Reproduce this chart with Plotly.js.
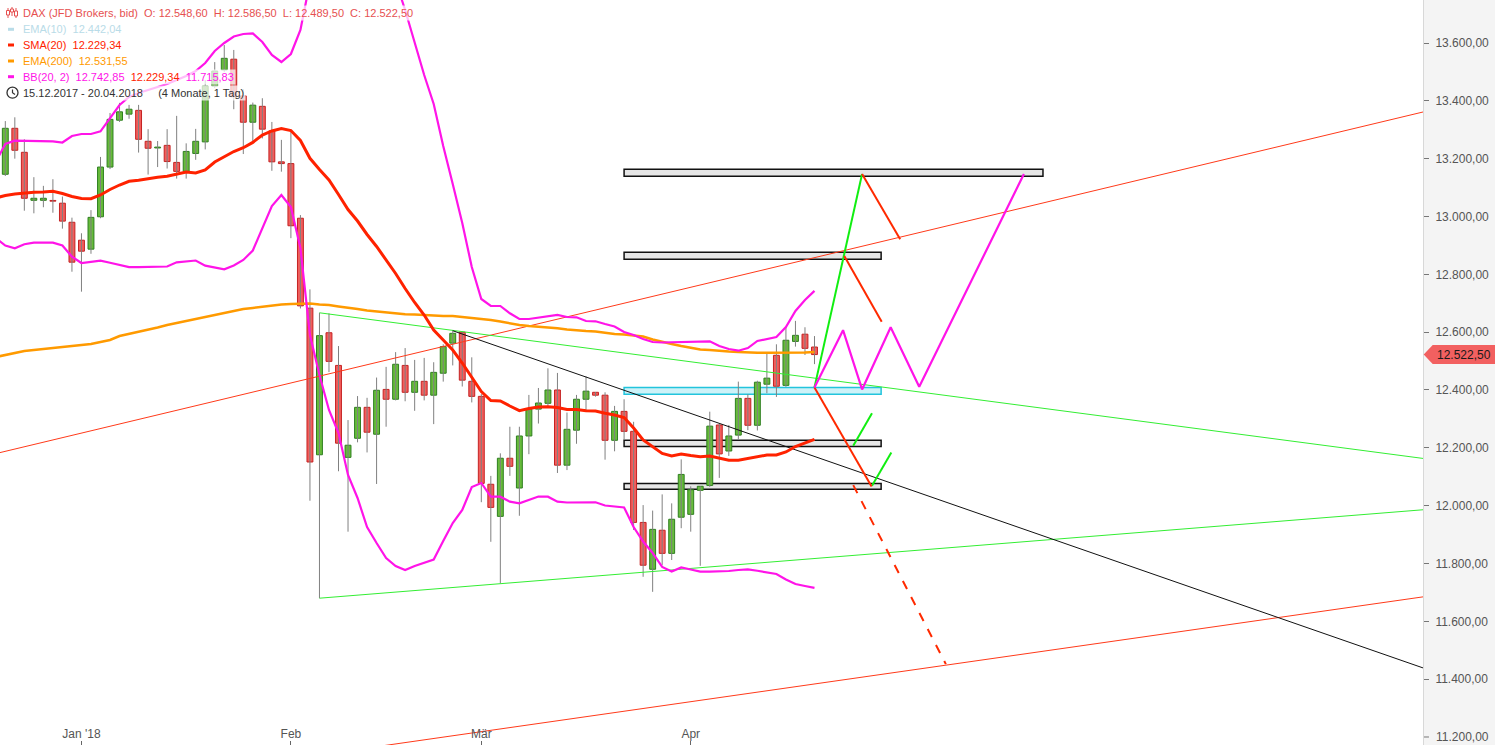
<!DOCTYPE html>
<html><head><meta charset="utf-8">
<script src="https://cdn.plot.ly/plotly-3.0.1.min.js"></script>
<style>html,body{margin:0;padding:0;background:#f4f4f4;overflow:hidden}#chart{width:1495px;height:745px}</style>
</head><body><div id="chart"></div>
<script>
// ---------- DATA ----------
const dates = ["2017-12-15","2017-12-18","2017-12-19","2017-12-20","2017-12-21","2017-12-22","2017-12-27","2017-12-28","2017-12-29",
"2018-01-02","2018-01-03","2018-01-04","2018-01-05","2018-01-08","2018-01-09","2018-01-10","2018-01-11","2018-01-12","2018-01-15","2018-01-16","2018-01-17","2018-01-18","2018-01-19","2018-01-22","2018-01-23","2018-01-24","2018-01-25","2018-01-26","2018-01-29","2018-01-30","2018-01-31",
"2018-02-01","2018-02-02","2018-02-05","2018-02-06","2018-02-07","2018-02-08","2018-02-09","2018-02-12","2018-02-13","2018-02-14","2018-02-15","2018-02-16","2018-02-19","2018-02-20","2018-02-21","2018-02-22","2018-02-23","2018-02-26","2018-02-27","2018-02-28",
"2018-03-01","2018-03-02","2018-03-05","2018-03-06","2018-03-07","2018-03-08","2018-03-09","2018-03-12","2018-03-13","2018-03-14","2018-03-15","2018-03-16","2018-03-19","2018-03-20","2018-03-21","2018-03-22","2018-03-23","2018-03-26","2018-03-27","2018-03-28","2018-03-29","2018-03-30",
"2018-04-03","2018-04-04","2018-04-05","2018-04-06","2018-04-09","2018-04-10","2018-04-11","2018-04-12","2018-04-13","2018-04-16","2018-04-17","2018-04-18","2018-04-19","2018-04-20"];

const open = [13005,13146,13305,13222,13056,13056,13055,13046,12980,12918,12887,12999,13171,13333,13354,13367,13260,13237,13246,13187,13156,13218,13258,13451,13507,13544,13417,13326,13381,13296,13189,13183,12994,12683,12176,12598,12485,12167,12233,12340,12247,12402,12368,12485,12392,12430,12382,12458,12562,12600,12430,12378,12074,11963,12164,12061,12241,12334,12354,12400,12140,12261,12368,12392,12382,12226,12326,12257,11942,11780,11915,11835,11960,11970,12053,12070,12279,12189,12244,12371,12278,12420,12520,12416,12568,12593,12548.6];
const high = [13160,13330,13343,13267,13136,13106,13129,13069,12996,12942,13022,13206,13358,13393,13386,13386,13302,13261,13302,13348,13253,13303,13472,13534,13593,13576,13440,13394,13409,13327,13265,13293,13005,12748,12667,12665,12552,12296,12379,12373,12443,12480,12531,12545,12504,12511,12496,12558,12607,12603,12513,12386,12103,12181,12273,12273,12383,12407,12475,12459,12322,12383,12447,12393,12392,12345,12368,12290,12002,11983,12039,12008,12160,12067,12067,12325,12282,12279,12429,12385,12432,12527,12558,12619,12639,12617,12586.5];
const low = [12988,13140,13200,13020,13011,13032,13013,12958,12809,12740,12871,12994,13164,13327,13338,13221,13145,13171,13166,13131,13131,13196,13232,13444,13500,13371,13216,13259,13270,13158,13155,12925,12682,12017,11680,12462,12119,11910,12219,12184,12075,12273,12364,12361,12328,12364,12282,12429,12485,12412,12357,12012,11875,11731,12103,11965,12178,12284,12342,12113,12123,12214,12331,12377,12159,12188,12227,11916,11754,11702,11795,11812,11922,11910,11792,12065,12096,12172,12227,12261,12260,12389,12376,12411,12550,12521,12489.5];
const close = [13138,13305,13229,13063,13063,13063,13053,12984,12842,12880,12997,13171,13336,13362,13371,13267,13236,13240,13190,13156,13225,13260,13451,13503,13547,13414,13326,13385,13302,13189,13183,12968,12691,12151,12588,12499,12216,12209,12340,12254,12399,12368,12489,12392,12430,12382,12461,12550,12596,12434,12378,12077,11994,12164,12136,12241,12334,12355,12400,12140,12264,12368,12396,12382,12226,12326,12257,11942,11794,11918,11835,11953,12108,12055,12067,12275,12179,12241,12371,12278,12427,12441,12413,12572,12589,12544,12522.5];

const ema10Last = 12442.04;
const sma20 = [13064.0,13072.6,13077.8,13081.3,13083.7,13084.7,13087.1,13079.5,13069.2,13062.2,13061.6,13074.4,13093.4,13108.9,13121.7,13125.5,13131.8,13135.9,13139.0,13146.3,13153.9,13150.4,13160.8,13188.5,13205.8,13224.8,13237.9,13256.3,13281.8,13295.7,13304.3,13297.4,13262.8,13201.3,13162.5,13126.2,13076.1,13024.2,12984.4,12937.8,12896.3,12851.3,12802.9,12751.0,12702.6,12659.4,12607.5,12572.9,12538.3,12493.4,12446.0,12394.8,12363.7,12362.0,12344.7,12328.4,12336.0,12341.2,12342.2,12339.5,12332.6,12332.6,12328.1,12327.4,12319.4,12313.5,12304.9,12268.6,12227.1,12204.6,12180.4,12171.8,12178.7,12173.5,12169.3,12171.8,12164.2,12157.2,12156.9,12163.5,12170.0,12175.2,12175.2,12185.6,12204.6,12215.7,12229.34];
const ema200 = [12514.1,12521.0,12528.0,12534.9,12538.3,12541.8,12545.2,12548.7,12552.2,12555.6,12559.1,12566.0,12572.9,12586.7,12593.7,12600.6,12607.5,12616.1,12624.8,12631.7,12638.6,12644.8,12653.1,12661.1,12668.0,12674.9,12680.1,12683.6,12688.4,12692.2,12695.7,12697.4,12699.1,12699.1,12695.7,12693.9,12688.8,12685.3,12680.1,12674.9,12671.5,12668.0,12664.6,12662.1,12661.1,12659.4,12655.9,12655.9,12655.9,12652.5,12650.0,12648.0,12642.1,12636.9,12630.7,12624.8,12621.3,12618.9,12616.8,12613.4,12609.2,12605.8,12604.0,12602.3,12597.1,12593.7,12591.9,12587.8,12585.0,12574.6,12566.0,12559.1,12552.2,12545.2,12540.1,12538.3,12534.9,12533.1,12531.4,12529.7,12529.0,12529.0,12529.0,12529.0,12528.0,12530.0,12531.55];
const bbUpper = [13188.5,13250.7,13262.1,13261.1,13260.1,13260.1,13260.1,13255.9,13278.4,13285.3,13285.3,13294.6,13339.6,13385.6,13413.3,13427.1,13437.5,13447.8,13458.2,13472.0,13485.9,13503.2,13530.8,13572.3,13600.0,13622.5,13631.1,13632.9,13603.5,13558.5,13534.3,13562.0,13645.0,13810.9,13873.2,13921.6,13900.9,13942.4,13942.4,13949.3,13921.6,13883.6,13814.4,13714.1,13600.0,13489.3,13389.0,13243.8,13112.4,12977.5,12825.4,12714.7,12690.5,12690.5,12665.2,12645.5,12645.5,12650.7,12654.2,12659.4,12652.5,12651.4,12638.6,12637.6,12628.2,12619.6,12600.6,12590.2,12576.4,12566.0,12564.3,12565.0,12565.0,12566.0,12567.0,12568.4,12552.2,12541.8,12535.9,12545.2,12569.5,12576.4,12583.3,12617.9,12673.2,12711.2,12742.85];
const bbLower = [12925.6,12899.7,12890.0,12903.9,12909.4,12909.4,12909.4,12899.7,12861.0,12839.2,12842.6,12847.2,12840.2,12832.3,12824.7,12824.7,12825.4,12825.4,12827.1,12841.6,12844.4,12847.8,12829.9,12823.6,12817.4,12830.6,12849.6,12882.4,12960.2,13036.3,13074.4,13032.9,12891.1,12590.2,12451.9,12330.8,12251.3,12106.1,12026.5,11926.2,11870.9,11819.0,11791.4,11777.5,11791.4,11801.8,11813.8,11877.8,11940.1,11985.0,12064.6,12078.4,12031.0,12031.0,12013.8,12008.2,12018.6,12031.7,12031.0,12013.8,12011.0,12011.0,12011.7,12011.7,12000.6,11998.1,11993.7,11926.2,11876.1,11836.3,11787.9,11772.4,11786.2,11779.3,11771.7,11771.7,11771.7,11774.1,11777.5,11779.9,11774.8,11768.9,11763.7,11744.7,11729.1,11722.2,11715.83];

const priceTicks = [11200,11400,11600,11800,12000,12200,12400,12600,12800,13000,13200,13400,13600];
const monthKeys = ["2018-01","2018-02","2018-03","2018-04"];
const monthNames = ["Jan '18","Feb","Mär","Apr"];

// drawn trend lines (bar index, price)
const redUpperX = [0,150],  redUpperY = [12180,13362];
const redLowerX = [0,150],  redLowerY = [10978,11685];
const greenUpperX = [34,150], greenUpperY = [12667,12163];
const greenLowerX = [34,150], greenLowerY = [11680,11986];
const blackX = [48,150], blackY = [12605,11438];
// zones
const zoneStart = [66,66,66,66,66];
const zoneEnd   = [110,93,93,93,93];
const zoneLow   = [13139,12852,12385,12205,12057];
const zoneHigh  = [13163,12876,12409,12226,12077];
const zoneKind  = ["gray","gray","cyan","gray","gray"];
// projections
const projGreenX = [86,91], projGreenY = [12409,13147];
const projRed1X = [91,95], projRed1Y = [13147,12921];
const projRed2X = [89.13,93.06], projRed2Y = [12863,12636];
const projRed3X = [86,92], projRed3Y = [12409,12066];
const projRedDashX = [90.07,99.8], projRedDashY = [12071,11452];
const projGreen2X = [90.07,92.04], projGreen2Y = [12207,12320];
const projGreen3X = [92.04,94.07], projGreen3Y = [12069,12184];
const projMagX = [86,89,91,94,97,108], projMagY = [12409,12607,12402,12617,12411,13147];

// ---------- BUILD ----------
const fmt = v => { const s = v.toFixed(2).split('.'); return s[0].replace(/\B(?=(\d{3})+(?!\d))/g,'.') + ',' + s[1]; };
const idx = dates.map((d,i)=>i);
const tickvals = monthKeys.map(k => dates.findIndex(d => d.startsWith(k)));

const wx=[], wy=[];
idx.forEach(i=>{ wx.push(i,i,null); wy.push(low[i],high[i],null); });
const up = idx.filter(i=>close[i]>=open[i]), dn = idx.filter(i=>close[i]<open[i]);
const body = (arr)=>({x:arr, base:arr.map(i=>Math.min(open[i],close[i])), y:arr.map(i=>Math.max(Math.abs(close[i]-open[i]),2.5))});

const L = (x,y,color,width,dash)=>({type:'scatter',mode:'lines',x,y,line:{color,width,dash:dash||'solid'},hoverinfo:'skip'});
const ub = body(up), db = body(dn);
const traces = [
  {type:'scatter',mode:'lines',x:wx,y:wy,line:{color:'#808080',width:1},hoverinfo:'skip'},
  {type:'bar',x:ub.x,base:ub.base,y:ub.y,width:0.62,marker:{color:'#66bb3a',line:{color:'#2e7f1f',width:1}},hoverinfo:'skip'},
  {type:'bar',x:db.x,base:db.base,y:db.y,width:0.62,marker:{color:'#f25d5b',line:{color:'#c42222',width:1}},hoverinfo:'skip'},
  L(redUpperX,redUpperY,'#ff3a1a',1),
  L(redLowerX,redLowerY,'#ff3a1a',1),
  L(greenUpperX,greenUpperY,'#33ee33',1),
  L(greenLowerX,greenLowerY,'#33ee33',1),
  L(blackX,blackY,'#111111',1),
  L(idx,ema200,'#ff9a00',2.5),
  L(idx,bbUpper,'#ff14e8',2.2),
  L(idx,bbLower,'#ff14e8',2.2),
  L(idx,sma20,'#ff2200',3),
  L(projGreenX,projGreenY,'#11ee11',2),
  L(projGreen2X,projGreen2Y,'#11ee11',2),
  L(projGreen3X,projGreen3Y,'#11ee11',2),
  L(projRed1X,projRed1Y,'#ff2a00',2),
  L(projRed2X,projRed2Y,'#ff2a00',2),
  L(projRed3X,projRed3Y,'#ff2a00',2),
  L(projRedDashX,projRedDashY,'#ff2a00',2,'dash'),
  L(projMagX,projMagY,'#ff14e8',2.2)
];

const PW = 1423, PH = 745;
const px = x => x/PW, py = y => 1 - y/PH;
const shapes = [];
zoneStart.forEach((s,k)=>{
  const cyan = zoneKind[k]==='cyan';
  shapes.push({type:'rect',xref:'x',yref:'y',layer:'below',x0:s,x1:zoneEnd[k],y0:zoneLow[k],y1:zoneHigh[k],
    fillcolor: cyan?'#cdf2f8':'#e6e6e6', line:{color: cyan?'#22c4dc':'#111111',width:1.5}});
});
// last price tag
const lastC = close[close.length-1];
shapes.push({type:'path',xref:'paper',yref:'y',path:`M 1.0005 ${lastC} L 1.0068 ${lastC+33} L 1.052 ${lastC+33} L 1.052 ${lastC-33} L 1.0068 ${lastC-33} Z`,fillcolor:'#f26060',line:{width:0}});
// bottom price tick (its label is dropped by the axis at the frame edge)
const edgeTick = priceTicks[0];
shapes.push({type:'line',xref:'paper',yref:'y',x0:1.0007,x1:1.0042,y0:edgeTick,y1:edgeTick,line:{color:'#777',width:1}});
// legend icons
const icon = (y,color)=>({type:'line',xref:'paper',yref:'paper',x0:px(8),x1:px(14),y0:py(y),y1:py(y),line:{color,width:3}});
shapes.push(icon(29.3,'#b9dce8'),icon(45,'#ff2200'),icon(61,'#ff9a00'),icon(76.7,'#ff14e8'));
[[8,8,18,10.5,15],[12,7,16,9,12],[16,8,18,11,16]].forEach(([x,y0,y1,b0,b1])=>{
  shapes.push({type:'line',xref:'paper',yref:'paper',x0:px(x),x1:px(x),y0:py(y0),y1:py(y1),line:{color:'#e65050',width:1}});
  shapes.push({type:'rect',xref:'paper',yref:'paper',x0:px(x-1.5),x1:px(x+1.5),y0:py(b0),y1:py(b1),fillcolor:'#ffffff',line:{color:'#e65050',width:1}});
});
shapes.push({type:'circle',xref:'paper',yref:'paper',x0:px(7),x1:px(18),y0:py(87.2),y1:py(98.2),line:{color:'#333',width:1.3}});
shapes.push({type:'path',xref:'paper',yref:'paper',path:`M ${px(12.5)} ${py(89.5)} L ${px(12.5)} ${py(92.7)} L ${px(15)} ${py(94.5)}`,line:{color:'#333',width:1.2}});

const nb = '\u00a0';
const n = open.length-1;
const ann = (y,text,color)=>({xref:'paper',yref:'paper',x:px(20.5),y:py(y),xanchor:'left',yanchor:'middle',showarrow:false,align:'left',
  text, font:{size:11,color,family:'"Liberation Sans", Arial, sans-serif'}, bgcolor:'rgba(255,255,255,0.72)', borderpad:1});
const annotations = [
  ann(13.3,`DAX (JFD Brokers, bid)${nb}${nb}O: ${fmt(open[n])}${nb}${nb}H: ${fmt(high[n])}${nb}${nb}L: ${fmt(low[n])}${nb}${nb}C: ${fmt(close[n])}`,'#e65050'),
  ann(29.3,`EMA(10)${nb}${nb}${fmt(ema10Last)}`,'#b9dce8'),
  ann(45,`SMA(20)${nb}${nb}${fmt(sma20[n])}`,'#ff2200'),
  ann(61,`EMA(200)${nb}${nb}${fmt(ema200[n])}`,'#ff9a00'),
  ann(76.7,`BB(20, 2)${nb}${nb}${fmt(bbUpper[n])}${nb}${nb}<span style="color:#ff2200">${fmt(sma20[n])}</span>${nb}${nb}${fmt(bbLower[n])}`,'#ff14e8'),
  ann(92.7,`${dates[0].split('-').reverse().join('.')} - ${dates[n].split('-').reverse().join('.')}${nb}${nb}${nb}${nb}${nb}(4 Monate, 1 Tag)`,'#333333'),
  {xref:'paper',yref:'y',x:1.0085,y:lastC,xanchor:'left',yanchor:'middle',showarrow:false,text:fmt(lastC),
   font:{size:12,color:'#1a1a1a',family:'"Liberation Sans", Arial, sans-serif'}},
  {xref:'paper',yref:'y',x:1.0075,y:edgeTick,xanchor:'left',yanchor:'middle',showarrow:false,text:fmt(edgeTick),
   font:{size:12,color:'#555',family:'"Liberation Sans", Arial, sans-serif'}}
];

const layout = {
  width:1495, height:745,
  margin:{l:0,r:72,t:0,b:0,pad:0},
  paper_bgcolor:'#f4f4f4', plot_bgcolor:'#ffffff',
  showlegend:false, hovermode:false, barmode:'overlay',
  font:{family:'"Liberation Sans", Arial, sans-serif',size:12,color:'#555'},
  xaxis:{range:[0.443,149.92],showgrid:false,zeroline:false,showline:false,tickmode:'array',tickvals,ticktext:monthNames,
    ticks:'inside',ticklen:4,tickcolor:'#666',ticklabelposition:'inside',tickfont:{size:12,color:'#555'}},
  yaxis:{range:[11172.3,13748.7],side:'right',showgrid:false,zeroline:false,showline:true,linecolor:'#d8d8d8',linewidth:1,
    tickmode:'array',tickvals:priceTicks.slice(1),ticktext:priceTicks.slice(1).map(fmt),ticks:'outside',ticklen:5,tickcolor:'#777',
    tickfont:{size:12,color:'#555'},ticklabelstandoff:4},
  shapes, annotations
};
Plotly.newPlot('chart',traces,layout,{staticPlot:true,displayModeBar:false});
</script></body></html>
